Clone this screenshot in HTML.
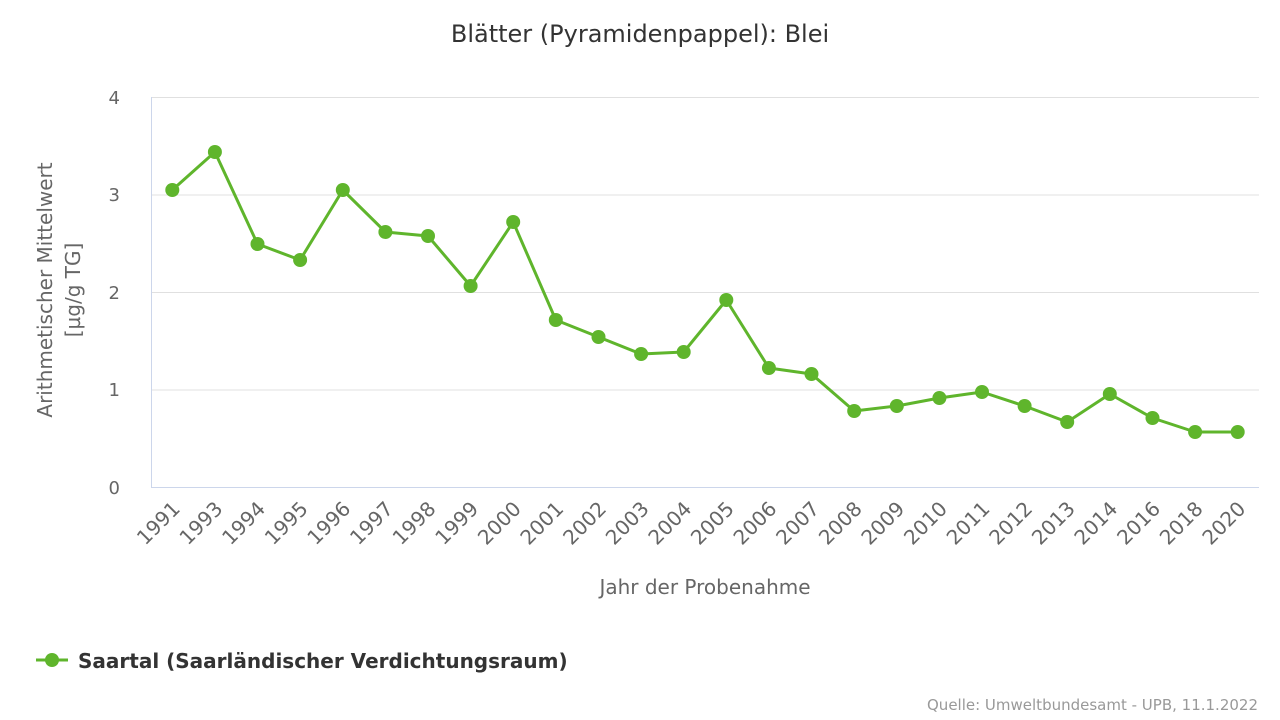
<!DOCTYPE html>
<html><head><meta charset="utf-8"><style>
html,body{margin:0;padding:0;background:#fff;}
svg{display:block;font-family:"DejaVu Sans","Liberation Sans",sans-serif;}
</style></head><body>
<svg width="1280" height="720" viewBox="0 0 1280 720" xmlns="http://www.w3.org/2000/svg">
<text x="640" y="42" text-anchor="middle" font-size="24" fill="#333">Blätter (Pyramidenpappel): Blei</text>
<g stroke="#e0e0e0" stroke-width="1">
<line x1="151" x2="1259" y1="97.5" y2="97.5"/>
<line x1="151" x2="1259" y1="195" y2="195"/>
<line x1="151" x2="1259" y1="292.5" y2="292.5"/>
<line x1="151" x2="1259" y1="390" y2="390"/>
</g>
<line x1="151" x2="1259" y1="487.5" y2="487.5" stroke="#ccd6eb"/>
<line x1="151.5" x2="151.5" y1="97" y2="487" stroke="#ccd6eb"/>
<g font-size="18" fill="#666" text-anchor="end">
<text x="120" y="104">4</text><text x="120" y="201">3</text><text x="120" y="299">2</text><text x="120" y="396">1</text><text x="120" y="494">0</text>
</g>
<text transform="translate(52,290) rotate(-90)" text-anchor="middle" font-size="20" fill="#666">Arithmetischer Mittelwert</text>
<text transform="translate(80,290) rotate(-90)" text-anchor="middle" font-size="20" fill="#666">[µg/g TG]</text>
<text x="705" y="594" text-anchor="middle" font-size="20" fill="#666">Jahr der Probenahme</text>
<g font-size="20" fill="#666" text-anchor="end">
<text transform="translate(181.3,510) rotate(-45)">1991</text>
<text transform="translate(223.9,510) rotate(-45)">1993</text>
<text transform="translate(266.5,510) rotate(-45)">1994</text>
<text transform="translate(309.1,510) rotate(-45)">1995</text>
<text transform="translate(351.8,510) rotate(-45)">1996</text>
<text transform="translate(394.4,510) rotate(-45)">1997</text>
<text transform="translate(437.0,510) rotate(-45)">1998</text>
<text transform="translate(479.6,510) rotate(-45)">1999</text>
<text transform="translate(522.2,510) rotate(-45)">2000</text>
<text transform="translate(564.8,510) rotate(-45)">2001</text>
<text transform="translate(607.5,510) rotate(-45)">2002</text>
<text transform="translate(650.1,510) rotate(-45)">2003</text>
<text transform="translate(692.7,510) rotate(-45)">2004</text>
<text transform="translate(735.3,510) rotate(-45)">2005</text>
<text transform="translate(777.9,510) rotate(-45)">2006</text>
<text transform="translate(820.5,510) rotate(-45)">2007</text>
<text transform="translate(863.2,510) rotate(-45)">2008</text>
<text transform="translate(905.8,510) rotate(-45)">2009</text>
<text transform="translate(948.4,510) rotate(-45)">2010</text>
<text transform="translate(991.0,510) rotate(-45)">2011</text>
<text transform="translate(1033.6,510) rotate(-45)">2012</text>
<text transform="translate(1076.2,510) rotate(-45)">2013</text>
<text transform="translate(1118.8,510) rotate(-45)">2014</text>
<text transform="translate(1161.5,510) rotate(-45)">2016</text>
<text transform="translate(1204.1,510) rotate(-45)">2018</text>
<text transform="translate(1246.7,510) rotate(-45)">2020</text>
</g>
<polyline fill="none" stroke="#5fb52c" stroke-width="3" stroke-linejoin="round" points="172.3,190 214.9,152 257.5,244 300.1,260 342.8,190 385.4,232 428.0,236 470.6,286 513.2,222 555.8,320 598.5,337 641.1,354 683.7,352 726.3,300 768.9,368 811.5,374 854.2,411 896.8,406 939.4,398 982.0,392 1024.6,406 1067.2,422 1109.8,394 1152.5,418 1195.1,432 1237.7,432"/>
<g fill="#5fb52c">
<circle cx="172.3" cy="190" r="7"/><circle cx="214.9" cy="152" r="7"/><circle cx="257.5" cy="244" r="7"/><circle cx="300.1" cy="260" r="7"/><circle cx="342.8" cy="190" r="7"/><circle cx="385.4" cy="232" r="7"/><circle cx="428.0" cy="236" r="7"/><circle cx="470.6" cy="286" r="7"/><circle cx="513.2" cy="222" r="7"/><circle cx="555.8" cy="320" r="7"/><circle cx="598.5" cy="337" r="7"/><circle cx="641.1" cy="354" r="7"/><circle cx="683.7" cy="352" r="7"/><circle cx="726.3" cy="300" r="7"/><circle cx="768.9" cy="368" r="7"/><circle cx="811.5" cy="374" r="7"/><circle cx="854.2" cy="411" r="7"/><circle cx="896.8" cy="406" r="7"/><circle cx="939.4" cy="398" r="7"/><circle cx="982.0" cy="392" r="7"/><circle cx="1024.6" cy="406" r="7"/><circle cx="1067.2" cy="422" r="7"/><circle cx="1109.8" cy="394" r="7"/><circle cx="1152.5" cy="418" r="7"/><circle cx="1195.1" cy="432" r="7"/><circle cx="1237.7" cy="432" r="7"/>
</g>
<line x1="36" x2="68" y1="660" y2="660" stroke="#5fb52c" stroke-width="3"/>
<circle cx="52" cy="660" r="7" fill="#5fb52c"/>
<text x="78" y="668" font-size="20" font-weight="bold" fill="#333">Saartal (Saarländischer Verdichtungsraum)</text>
<text x="1258" y="710" text-anchor="end" font-size="15" fill="#999">Quelle: Umweltbundesamt - UPB, 11.1.2022</text>
</svg>
</body></html>
